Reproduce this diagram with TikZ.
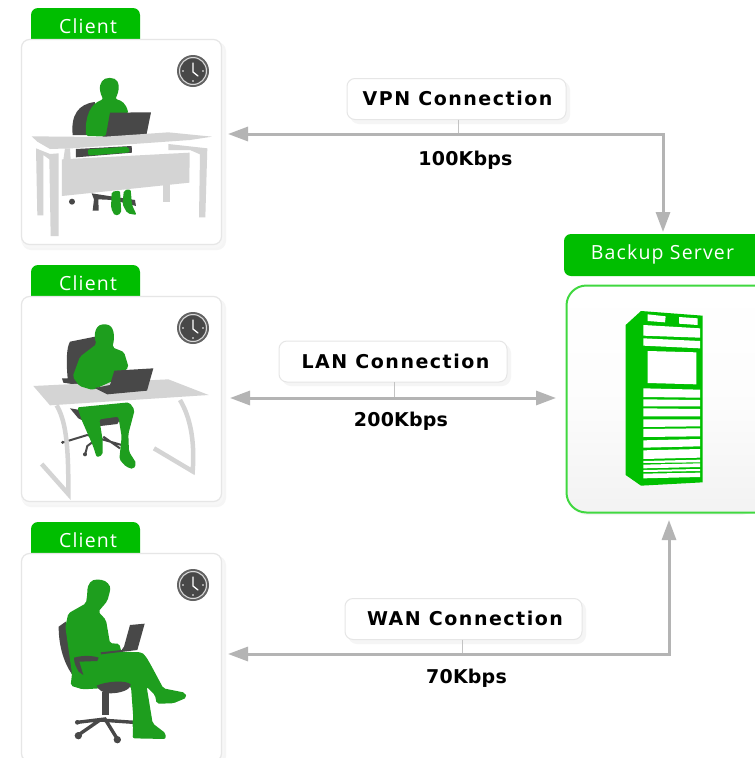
\documentclass[tikz,border=0pt]{standalone}
\usepackage{fontspec}
\setmainfont{Open Sans}
\newfontfamily\lblfont[LetterSpace=8]{DejaVu Sans}
\newfontfamily\ratefont[LetterSpace=1]{DejaVu Sans}
\newfontfamily\tabfont[LetterSpace=6]{Open Sans}
\usetikzlibrary{arrows.meta}
\definecolor{tabgreen}{HTML}{00BE00}
\definecolor{mangreen}{HTML}{1E9E1E}
\definecolor{srvgreen}{HTML}{00C000}
\definecolor{edgegreen}{HTML}{40D840}
\definecolor{darkgrey}{HTML}{484848}
\definecolor{deskgrey}{HTML}{D4D4D4}
\definecolor{conngrey}{HTML}{B4B4B4}
\definecolor{softedge}{HTML}{E6E6E6}
\tikzset{
 x=1pt,y=-1pt,
 card/.style={draw=softedge,line width=1.2pt,fill=white,rounded corners=8pt,minimum width=200pt,minimum height=205pt,inner sep=0pt,outer sep=0pt},
 tabbox/.style={fill=tabgreen,text=white,rounded corners=7pt,inner sep=0pt,outer sep=0pt,anchor=center},
 tabtext/.style={text=white,font=\tabfont\fontsize{19.5}{20}\selectfont,inner sep=0pt},
 lblbox/.style={draw=softedge,line width=1pt,fill=white,rounded corners=8pt,minimum height=41pt,inner sep=0pt,outer sep=0pt},
 lbltext/.style={font=\lblfont\bfseries\fontsize{19}{20}\selectfont,text=black,inner sep=0pt},
 ratelbl/.style={font=\ratefont\bfseries\fontsize{19}{20}\selectfont,text=black,inner sep=0pt},
 connboth/.style={draw=conngrey,line width=3pt,{Triangle[length=20pt,width=14pt]}-{Triangle[length=20pt,width=14pt]},line join=miter},
 stem/.style={draw=softedge!85!black,line width=1pt},
 man/.style={fill=mangreen,draw=none,rounded corners=2pt},
 dark/.style={fill=darkgrey,draw=none},
 desk/.style={fill=deskgrey,draw=none},
 zoomed/.style={x=0.33333pt,y=-0.33333pt},
}
\newcommand{\softshadow}[4]{%
 \fill[black!4,rounded corners=9pt] (#1+1,#2+2) rectangle (#3+4,#4+5);
 \fill[black!3,rounded corners=9pt] (#1,#2+1) rectangle (#3+2,#4+3);}
\newcommand{\clockicon}[2]{%
 \fill[darkgrey!85!white] (#1,#2) circle[radius=16];
 \fill[darkgrey] (#1,#2) circle[radius=12.5];
 \draw[white!85!black,line width=1pt] (#1,#2) circle[radius=13.5];
 \draw[white,line width=1.3pt,line cap=round] (#1,#2-8) -- (#1,#2+1) -- (#1+5,#2+5);
 \fill[white] (#1,#2+10) circle[radius=.9] (#1-10,#2) circle[radius=.9] (#1+10,#2) circle[radius=.9];}
\begin{document}
\begin{tikzpicture}
\useasboundingbox (0,0) rectangle (755,758);
\fill[white] (0,0) rectangle (755,758);

% tabs and cards
\softshadow{21}{40}{222}{245}
\softshadow{21}{297}{222}{502}
\softshadow{21}{554}{222}{760}
\node[tabbox,minimum width=109pt,minimum height=40pt] (tab1bg) at (85.5,28) {};
\node[tabbox,minimum width=109pt,minimum height=40pt] (tab2bg) at (85.5,285) {};
\node[tabbox,minimum width=109pt,minimum height=40pt] (tab3bg) at (85.5,542) {};
\node[card] (card1) at (121.5,142) {};
\node[card] (card2) at (121.5,399) {};
\node[card,minimum height=208pt] (card3) at (121.5,657.5) {};
\node[tabtext] (tab1) at (88,26) {Client};
\node[tabtext] (tab2) at (88,283) {Client};
\node[tabtext] (tab3) at (88,540) {Client};

\clockicon{193}{71}
\clockicon{193}{328}
\clockicon{193}{585}

% ---------- figure 1
\begin{scope}[zoomed]
 \path[dark] (218,405) .. controls (212,345) and (235,312) .. (285,306) -- (285,405) -- cycle;
 \path[man] (258,408) .. controls (255,350) and (270,312) .. (310,298)
   .. controls (300,280) and (298,262) .. (303,250) .. controls (312,230) and (346,230) .. (355,250)
   .. controls (358,268) and (352,285) .. (346,297) .. controls (365,302) and (378,310) .. (385,340) -- (340,410) -- cycle;
 \path[dark] (330,338) -- (453,337) -- (438,411) -- (302,413) -- (318,405) -- cycle;
 \fill[darkgrey] (216,605) circle[radius=9];
 \path[dark] (275,580) -- (405,600) -- (408,618) -- (340,600) -- (295,598) -- (296,632) -- (278,632) -- (282,598) -- cycle;
 \path[desk] (95,409) -- (300,411) -- (505,397) -- (636,410) -- (570,420) -- (400,432) -- (215,445) -- (150,447) -- (112,425) -- cycle;
 \path[dark] (228,447) -- (395,438) -- (396,458) -- (228,472) -- cycle;
 \path[man] (263,448) -- (385,440) -- (390,457) -- (265,467) -- cycle;
 \path[desk] (108,445) -- (150,462) -- (176,460) -- (176,708) -- (152,708) -- (148,478) -- (130,465) -- (130,646) -- (112,646) -- cycle;
 \path[desk] (210,445) -- (195,445) -- (190,480) -- (212,478) -- cycle;
 \path[desk] (505,432) -- (622,445) -- (616,652) -- (597,652) -- (600,463) -- (570,450) -- (505,450) -- cycle;
 \path[desk] (490,550) -- (511,550) -- (511,606) -- (490,606) -- cycle;
 \path[desk] (186,478) -- (569,458) -- (568,548) -- (186,588) -- cycle;
 \path[man] (335,575) -- (360,572) -- (364,640) -- (345,648) -- (333,625) -- cycle;
 \path[man] (372,570) -- (392,568) -- (396,615) -- (410,645) -- (382,640) -- (367,612) -- cycle;
\end{scope}

% ---------- figure 2
\begin{scope}[shift={(0,260)},zoomed]
 \path[dark] (203,355) .. controls (198,300) and (200,262) .. (210,245) -- (285,230) -- (300,262) -- (240,345) -- (235,375) -- (190,368) -- (186,355) -- cycle;
 \path[dark] (210,445) -- (365,470) -- (352,492) -- (285,500) -- (235,475) -- cycle;
 \draw[darkgrey,line width=2pt] (190,547) -- (262,525) (262,525) -- (365,555) (300,530) -- (262,558) -- (255,585) (310,530) -- (360,565);
 \fill[darkgrey] (188,547) circle[radius=5] (255,583) circle[radius=6];
 \path[desk] (100,378) -- (505,358) -- (626,405) -- (150,436) -- cycle;
 \path[man] (232,442) -- (388,427) -- (404,450) -- (385,522) -- (387,575) -- (409,610) -- (400,628) -- (378,620) -- (358,598) -- (365,530) -- (355,470) -- (298,478) -- (308,540) -- (308,585) -- (290,592) -- (280,560) -- (245,480) -- cycle;
 \path[man] (290,252) .. controls (280,228) and (285,195) .. (313,193) .. controls (342,195) and (346,228) .. (337,262)
   -- (372,276) -- (386,322) -- (340,362) -- (278,390) -- (238,378) -- (218,350) -- (240,290) -- cycle;
 \path[dark] (343,332) -- (460,325) -- (441,392) -- (322,403) -- (284,384) -- (330,375) -- cycle;
 \draw[deskgrey,line width=4.5pt] (170,436) .. controls (195,480) and (206,540) .. (205,702) -- (125,612);
 \draw[deskgrey,line width=4.5pt] (540,420) .. controls (570,470) and (585,540) .. (578,634) -- (462,565);
\end{scope}

% ---------- figure 3
\begin{scope}[shift={(0,515)},zoomed]
 \path[dark] (197,320) -- (176,335) .. controls (176,390) and (190,440) .. (216,478) -- (230,440) -- cycle;
 \path[dark] (222,428) .. controls (250,420) and (280,422) .. (296,428) -- (292,438) -- (238,440) -- (258,500) -- (242,500) .. controls (230,470) and (222,450) .. (222,428) -- cycle;
 \path[man] (262,236) .. controls (262,205) and (275,193) .. (297,194) .. controls (320,196) and (332,212) .. (330,228)
   -- (322,258) -- (295,290) -- (318,315) -- (330,385) -- (358,386) -- (364,410) -- (425,412)
   .. controls (440,425) and (450,445) .. (490,520) -- (555,533) -- (560,548) -- (520,565) -- (470,566) -- (465,540) -- (440,515)
   -- (458,625) -- (497,655) -- (497,672) -- (398,670) -- (400,610) -- (393,515) -- (300,520) -- (248,523) -- (212,512) -- (216,476) -- (196,335) -- (205,295) -- (258,265) -- cycle;
 \path[dark] (222,428) .. controls (250,420) and (280,422) .. (296,428) -- (292,438) -- (238,440) -- (250,480) -- (236,470) .. controls (228,455) and (222,445) .. (222,428) -- cycle;
 \path[dark] (390,330) -- (434,326) -- (412,405) -- (303,418) -- (302,412) -- (365,405) -- (372,395) -- cycle;
 \path[dark] (290,512) .. controls (320,498) and (380,495) .. (392,508) .. controls (392,525) and (360,535) .. (330,535) .. controls (310,535) and (295,525) .. (290,512) -- cycle;
 \path[dark] (305,530) -- (328,530) -- (328,600) -- (305,600) -- cycle;
 \draw[darkgrey,line width=3.4pt] (235,660) -- (300,615) -- (402,622) (352,672) -- (315,612) -- (232,622);
 \fill[darkgrey] (235,662) circle[radius=11] (352,674) circle[radius=11] (232,622) circle[radius=7];
 \path[man] (398,610) -- (437,612) -- (440,630) -- (398,640) -- cycle;
\end{scope}

% ---------- server
\fill[black!4,rounded corners=20pt] (568,288) rectangle (760,515);
\node[tabbox,minimum width=200pt,minimum height=42pt,anchor=north west] (srvtab) at (564,234) {};
\node[tabtext] (srvtxt) at (662.5,254) {Backup Server};
\node[draw=edgegreen,line width=2pt,top color=white,bottom color=black!5,middle color=black!1,rounded corners=20pt,minimum width=210pt,minimum height=227pt,inner sep=0pt,outer sep=0pt,anchor=north west] (srv) at (566.5,285.5) {};
\begin{scope}[shift={(555,225)},zoomed]
 \fill[srvgreen] (212,300) -- (258,258) -- (443,272) -- (443,772) -- (258,782) -- (212,750) -- cycle;
 \fill[white] (278,268) -- (332,274) -- (330,292) -- (278,288) -- cycle
   (372,276) -- (428,280) -- (428,300) -- (372,296) -- cycle
   (265,300) -- (435,310) -- (435,338) -- (265,332) -- cycle
   (265,340) -- (435,348) -- (435,370) -- (265,362) -- cycle
   (278,378) -- (424,382) -- (424,478) -- (278,474) -- cycle
   (265,490) -- (435,494) -- (435,518) -- (265,516) -- cycle
   (265,523) -- (435,525) -- (435,544) -- (265,544) -- cycle
   (265,550) -- (435,552) -- (435,574) -- (265,574) -- cycle
   (265,583) -- (435,583) -- (435,604) -- (265,606) -- cycle
   (265,612) -- (435,610) -- (435,634) -- (265,636) -- cycle
   (265,646) -- (435,642) -- (435,664) -- (265,668) -- cycle
   (265,676) -- (435,672) -- (435,698) -- (265,702) -- cycle
   (265,708) -- (435,704) -- (435,712) -- (265,714) -- cycle
   (265,719) -- (435,715) -- (435,726) -- (265,730) -- cycle
   (265,735) -- (435,732) -- (435,738) -- (265,741) -- cycle
   (265,746) -- (435,743) -- (435,756) -- (265,760) -- cycle;
\end{scope}

% ---------- connection labels
\fill[black!4,rounded corners=9pt] (350,81) rectangle (570,124);
\fill[black!4,rounded corners=9pt] (282,344) rectangle (511,386);
\fill[black!4,rounded corners=9pt] (348,601) rectangle (586,644);
\node[lblbox,minimum width=219pt] (vpn) at (456.5,99) {};
\node[lblbox,minimum width=228pt] (lan) at (393,361.5) {};
\node[lblbox,minimum width=237pt] (wan) at (463.5,619) {};
\node[lbltext] (vpntxt) at (457.5,98) {VPN Connection};
\node[lbltext] (lantxt) at (395.5,361) {LAN Connection};
\node[lbltext] (wantxt) at (465,618) {WAN Connection};
\node[ratelbl] (rate1) at (465.5,160) {100Kbps};
\node[ratelbl] (rate2) at (401,421) {200Kbps};
\node[ratelbl] (rate3) at (466.5,678) {70Kbps};

% ---------- connectors
\coordinate (c1) at (228,134);
\coordinate (s1) at (663,232);
\coordinate (c2) at (230,398);
\coordinate (s2) at (556,398);
\coordinate (c3) at (228,654);
\coordinate (s3) at (669,520);
\coordinate (bend1) at (663,134);
\coordinate (bend3) at (669,654);
\draw[stem] ([xshift=2pt]vpn.south) -- ([xshift=2pt]vpn.south |- c1);
\draw[stem] ([xshift=1pt]lan.south) -- ([xshift=1pt]lan.south |- c2);
\draw[stem] ([xshift=-1pt]wan.south) -- ([xshift=-1pt]wan.south |- c3);
\draw[connboth] (c1) -- (bend1) -- (s1);
\draw[connboth] (c2) -- (s2);
\draw[connboth] (c3) -- (bend3) -- (s3);
\end{tikzpicture}
\end{document}
